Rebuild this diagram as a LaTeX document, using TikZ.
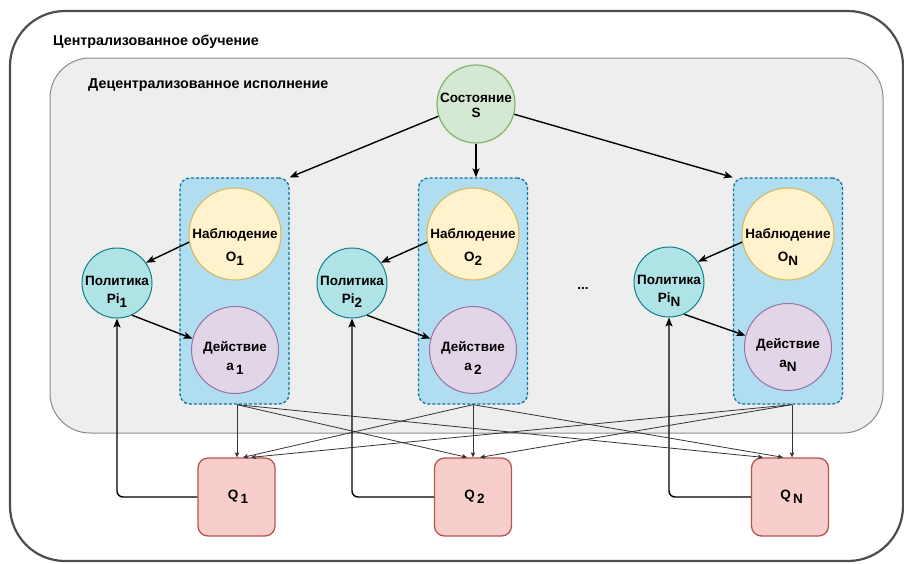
\documentclass[tikz,border=0pt]{standalone}
\usepackage{fontspec}
\setmainfont{Liberation Sans}
\usetikzlibrary{arrows.meta}
\definecolor{frameline}{HTML}{4D4D4D}
\definecolor{zonefill}{HTML}{EEEEEE}
\definecolor{zoneline}{HTML}{8C8C8C}
\definecolor{statefill}{HTML}{D5E8D4}
\definecolor{stateline}{HTML}{82B366}
\definecolor{grpfill}{HTML}{B1DDF0}
\definecolor{grpline}{HTML}{10739E}
\definecolor{obsfill}{HTML}{FFF2CC}
\definecolor{obsline}{HTML}{D6B656}
\definecolor{actfill}{HTML}{E1D5E7}
\definecolor{actline}{HTML}{9673A6}
\definecolor{polfill}{HTML}{B0E3E6}
\definecolor{polline}{HTML}{0E8088}
\definecolor{qfill}{HTML}{F8CECC}
\definecolor{qline}{HTML}{B85450}
\definecolor{crossline}{HTML}{333333}
\newcommand\lowidx[1]{\raisebox{-0.5ex}{#1}}
\begin{document}
\begin{tikzpicture}[x=1pt,y=-1pt,
  font=\bfseries\fontsize{13.5}{16}\selectfont,
  ctext/.style={align=center,inner sep=0pt},
  statenode/.style={circle,draw=stateline,fill=statefill,line width=1.2pt,minimum size=78pt,inner sep=0pt},
  grpbox/.style={draw=grpline,fill=grpfill,line width=1.3pt,dash pattern=on 3pt off 2pt,rounded corners=10pt,minimum width=109pt,minimum height=226pt,inner sep=0pt},
  obsnode/.style={circle,draw=obsline,fill=obsfill,line width=1pt,minimum size=92pt,inner sep=0pt},
  actnode/.style={circle,draw=actline,fill=actfill,line width=1pt,minimum size=87pt,inner sep=0pt},
  polnode/.style={circle,draw=polline,fill=polfill,line width=1pt,minimum size=70pt,inner sep=0pt},
  qnode/.style={draw=qline,fill=qfill,line width=1.3pt,rounded corners=10pt,minimum width=77pt,minimum height=78pt,inner sep=0pt},
  title/.style={anchor=base west,inner sep=0pt,font=\bfseries\fontsize{14.3}{17}\selectfont},
  mainarrow/.style={line width=1.4pt,-{Stealth[length=9pt,width=7pt,inset=2pt]}},
  crossarrow/.style={draw=crossline,line width=0.8pt,-{Stealth[length=5pt,width=4.5pt,inset=1pt]}},
  backarrow/.style={line width=1.4pt,rounded corners=6pt,-{Stealth[length=9pt,width=7pt,inset=2pt]}}]
\useasboundingbox (0,0) rectangle (904,563);

% outer frame: centralised training
\draw[frameline,line width=2.2pt,rounded corners=55pt] (10,11) rectangle (903,561);
\node[title] (ttrain) at (53,45) {Централизованное обучение};

% inner zone: decentralised execution
\draw[zoneline,fill=zonefill,line width=1pt,rounded corners=40pt] (50,58) rectangle (883,433);
\node[title] (texec) at (88,88) {Децентрализованное исполнение};

% global state
\node[statenode,label={[ctext,yshift=-1pt]center:Состояние\\[-1pt]S}] (s) at (476,104) {};

% agent groups
\node[grpbox] (g1) at (234.5,291) {};
\node[grpbox] (g2) at (473,291) {};
\node[grpbox] (gn) at (788,291) {};

\node[obsnode,label={[ctext,yshift=-13pt]center:Наблюдение\\[7pt]O\lowidx{1}}] (o1) at (235,234) {};
\node[obsnode,label={[ctext,yshift=-13pt]center:Наблюдение\\[7pt]O\lowidx{2}}] (o2) at (473,234) {};
\node[obsnode,label={[ctext,yshift=-13pt]center:Наблюдение\\[7pt]O\lowidx{N}}] (on) at (788,234) {};

\node[actnode,label={[ctext,yshift=-8pt]center:Действие\\[3pt]a\,\lowidx{1}}] (a1) at (235,350) {};
\node[actnode,label={[ctext,yshift=-8pt]center:Действие\\[3pt]a\,\lowidx{2}}] (a2) at (473,350) {};
\node[actnode,label={[ctext,yshift=-8pt]center:Действие\\[3pt]a\lowidx{N}}] (an) at (788,347) {};

\node[polnode,label={[ctext,yshift=-9pt]center:Политика\\[2pt]Pi\lowidx{1}}] (p1) at (117,283) {};
\node[polnode,label={[ctext,yshift=-9pt]center:Политика\\[2pt]Pi\lowidx{2}}] (p2) at (352,283) {};
\node[polnode,label={[ctext,yshift=-9pt]center:Политика\\[2pt]Pi\lowidx{N}}] (pn) at (669,282) {};

\node[inner sep=0pt] (dots) at (583,288) {...};

% critics
\node[qnode] (q1) at (236.5,497) {\hspace{3pt}Q\,\lowidx{1}};
\node[qnode] (q2) at (473,497) {\hspace{3pt}Q\,\lowidx{2}};
\node[qnode] (qn) at (790,497) {\hspace{3pt}Q\,\lowidx{N}};

% state to observations
\draw[mainarrow] (s.198) -- (g1.north east);
\draw[mainarrow] (s.south) -- (s.south |- g2.north);
\draw[mainarrow] (s.-15) -- (gn.north west);

% observation -> policy -> action
\draw[mainarrow] (o1.190) -- (p1.35);
\draw[mainarrow] (o2.190) -- (p2.35);
\draw[mainarrow] (on.190) -- (pn.35);
\draw[mainarrow] (p1.-65) -- (a1.165);
\draw[mainarrow] (p2.-65) -- (a2.165);
\draw[mainarrow] (pn.-65) -- (an.165);

% critic feedback to policies
\draw[backarrow] (q1.west) -| (p1.south);
\draw[backarrow] (q2.west) -| (p2.south);
\draw[backarrow] (qn.west) -| (pn.south);

% actions of every agent to every critic
\draw[crossarrow] ([xshift=2.5pt]g1.south) -- ([xshift=0.5pt]q1.north);
\draw[crossarrow] ([xshift=2.5pt]g1.south) -- ([xshift=-6pt]q2.north);
\draw[crossarrow] ([xshift=2.5pt]g1.south) -- ([xshift=-27pt]qn.north);
\draw[crossarrow] (g2.south) -- ([xshift=6.5pt]q1.north);
\draw[crossarrow] (g2.south) -- (q2.north);
\draw[crossarrow] (g2.south) -- ([xshift=-7pt]qn.north);
\draw[crossarrow] ([xshift=4pt]gn.south) -- ([xshift=14.5pt]q1.north);
\draw[crossarrow] ([xshift=4pt]gn.south) -- ([xshift=7pt]q2.north);
\draw[crossarrow] ([xshift=4pt]gn.south) -- ([xshift=2pt]qn.north);
\end{tikzpicture}
\end{document}
